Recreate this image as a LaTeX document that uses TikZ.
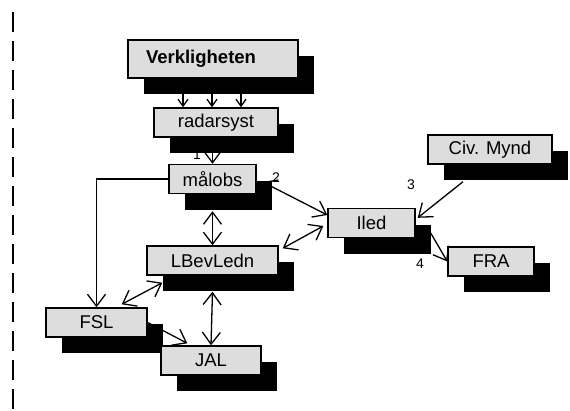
\documentclass[tikz,border=0pt]{standalone}
\usepackage{fontspec}
\setmainfont{Liberation Sans}
\usepackage{xcolor}
\usepackage{tikz}
\usetikzlibrary{arrows.meta,shadows,positioning}

\definecolor{boxgray}{RGB}{221,221,221}

\begin{document}
\begin{tikzpicture}[
    x=1pt, y=-1pt,
    box/.style={rectangle, draw, line width=1.4pt, fill=boxgray, inner sep=0pt,
        minimum height=29pt, text centered,
        font=\fontsize{18.5pt}{22pt}\selectfont,
        general shadow={fill=black, shadow xshift=16pt, shadow yshift=-16pt}},
    arrow/.style={->, >={Straight Barb[length=12pt,width=18pt]}, line width=1.3pt},
    smallarrow/.style={->, >={Straight Barb[length=7pt,width=10pt]}, line width=1.3pt},
    num/.style={font=\fontsize{14pt}{16pt}\selectfont, inner sep=0pt}
]
    \useasboundingbox (0,0) rectangle (570,410);

    % left margin line
    \coordinate (margintop) at (12.5,12);
    \coordinate (marginbot) at (12.5,410);
    \draw[line width=2pt, dash pattern=on 20pt off 9pt] (margintop) -- (marginbot);

    \node[box, minimum width=170pt, minimum height=38pt, text width=134pt,
        inner xsep=18pt, align=left, font=\fontsize{18.5pt}{22pt}\selectfont\bfseries]
        (verk) at (213,59) {Verkligheten};
    \node[box, minimum width=124pt] (radar) at (216,122.5) {radarsyst};
    \node[box, minimum width=87pt] (malobs) at (212.5,179) {målobs};
    \node[box, minimum width=131pt] (lbev) at (212.5,260.5) {LBevLedn};
    \node[box, minimum width=101pt] (fsl) at (96.5,322.5) {FSL};
    \node[box, minimum width=100pt] (jal) at (211,360.5) {JAL};
    \node[box, minimum width=87pt] (iled) at (371.5,223) {Iled};
    \node[box, minimum width=124pt] (civ) at (490,149.5) {Civ. Mynd};
    \node[box, minimum width=86pt] (fra) at (491,261.5) {FRA};

    \node[num] (lab1) at (197,155) {1};
    \node[num] (lab2) at (276,178) {2};
    \node[num] (lab3) at (411,185) {3};
    \node[num] (lab4) at (420,264) {4};

    \foreach \dx in {-30,-1,28}
        \draw[smallarrow] ([xshift=\dx pt]verk.south) -- ([xshift=\dx pt]verk.south |- radar.north);

    \draw[arrow] (malobs.north |- radar.south) -- (malobs.north);
    \draw[arrow] (malobs.west) -| (fsl.north);
    \draw[arrow, <->] ([yshift=-17pt]malobs.south) -- (lbev.north);
    \draw[arrow, <->] ([xshift=6pt,yshift=-3pt]malobs.east) -- ([yshift=8pt]iled.west);
    \draw[arrow, <->] ([xshift=-4pt,yshift=-3pt]iled.west) -- ([xshift=4pt,yshift=-3pt]lbev.north east);
    \draw[arrow] ([xshift=-27pt,yshift=-17pt]civ.south) -- ([xshift=2pt,yshift=-10pt]iled.north east);
    \draw[arrow] ([xshift=15pt,yshift=-10pt]iled.east) -- (fra.west);
    \draw[arrow, <->] ([xshift=16pt,yshift=-7pt]lbev.south west) -- ([xshift=-26pt,yshift=3pt]fsl.north east);
    \draw[arrow, <->] ([yshift=-16pt]lbev.south) -- (jal.north);
    \draw[arrow] (fsl.east) -- ([xshift=27pt,yshift=2pt]jal.north west);
\end{tikzpicture}
\end{document}
